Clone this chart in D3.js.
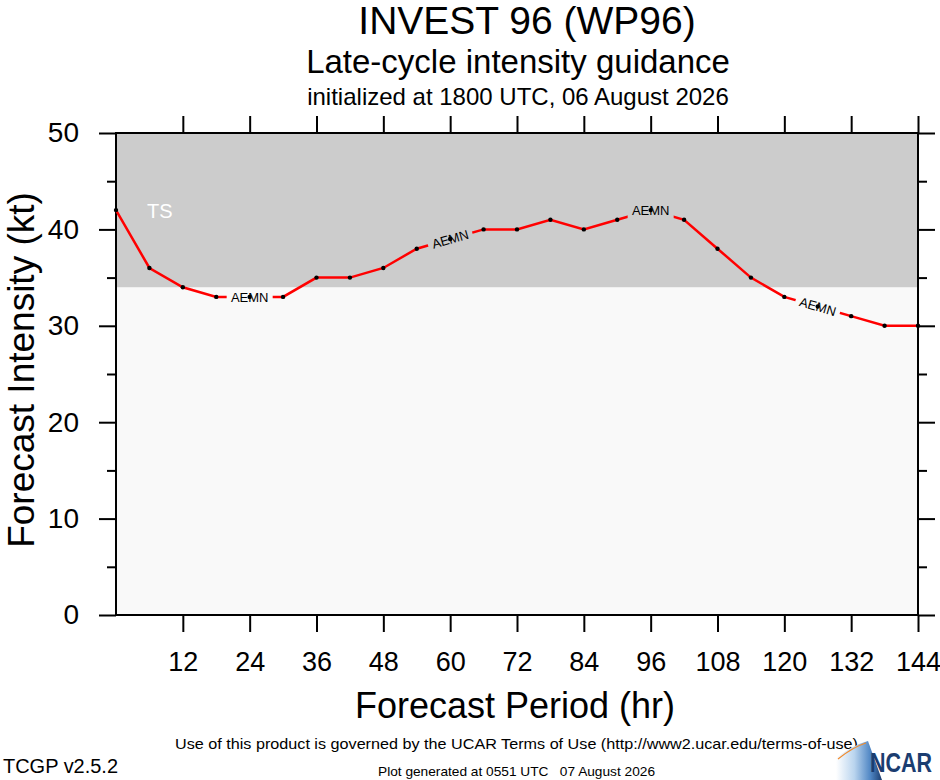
<!DOCTYPE html>
<html>
<head>
<meta charset="utf-8">
<script src="https://cdn.jsdelivr.net/npm/d3@7"></script>
<style>
  html, body { margin: 0; padding: 0; background: #fff; }
  svg { display: block; font-family: "Liberation Sans", Arial, Helvetica, sans-serif; }
</style>
</head>
<body>
<div id="chart"></div>
<script>
// forecast hours and AEMN intensity (kt)
const hours = [0, 6, 12, 18, 24, 30, 36, 42, 48, 54, 60, 66, 72, 78, 84, 90, 96, 102, 108, 114, 120, 126, 132, 138, 144];
const aemn  = [42, 36, 34, 33, 33, 33, 35, 35, 36, 38, 39, 40, 40, 41, 40, 41, 42, 41, 38, 35, 33, 32, 31, 30, 30];
const labelHours = [24, 60, 96, 126];
const xTicks = [12, 24, 36, 48, 60, 72, 84, 96, 108, 120, 132, 144];
const yMajor = [0, 10, 20, 30, 40, 50];
const yMinor = [5, 15, 25, 35, 45];
const tsThreshold = 34;

const W = 940, H = 780;
const plot = { left: 116, right: 918, top: 133, bottom: 615 };

const svg = d3.select('#chart').append('svg')
  .attr('width', W).attr('height', H)
  .attr('viewBox', `0 0 ${W} ${H}`);

const x = d3.scaleLinear().domain([0, 144]).range([plot.left, plot.right]);
const y = d3.scaleLinear().domain([0, 50]).range([plot.bottom, plot.top]);

// titles
svg.append('text').attr('x', 527).attr('y', 34).attr('text-anchor', 'middle')
  .style('font-size', '39px').text('INVEST 96 (WP96)');
svg.append('text').attr('x', 518).attr('y', 73).attr('text-anchor', 'middle')
  .style('font-size', '33px').text('Late-cycle intensity guidance');
svg.append('text').attr('x', 518).attr('y', 105).attr('text-anchor', 'middle')
  .style('font-size', '24px').text('initialized at 1800 UTC, 06 August 2026');

// background bands
svg.append('rect')
  .attr('x', plot.left).attr('y', y(tsThreshold))
  .attr('width', plot.right - plot.left).attr('height', y(0) - y(tsThreshold))
  .attr('fill', '#f9f9f9');
svg.append('rect')
  .attr('x', plot.left).attr('y', y(50))
  .attr('width', plot.right - plot.left).attr('height', y(tsThreshold) - y(50))
  .attr('fill', '#cccccc');

svg.append('text').attr('x', 147).attr('y', 218)
  .attr('fill', '#fff').style('font-size', '20px').text('TS');

// axes: outward ticks on all four sides
const tickStyle = g => g.call(s => s.select('.domain').remove())
  .call(s => s.selectAll('line').attr('stroke', '#000').attr('stroke-width', 2));

svg.append('g').attr('transform', `translate(0,${plot.bottom})`)
  .call(d3.axisBottom(x).tickValues(xTicks).tickSize(17).tickPadding(20).tickFormat(d3.format('d')))
  .call(tickStyle)
  .call(g => g.selectAll('text').style('font-size', '27px').attr('fill', '#000')
    .style('font-family', '"Liberation Sans", Arial, sans-serif'));
svg.append('g').attr('transform', `translate(0,${plot.top})`)
  .call(d3.axisTop(x).tickValues(xTicks).tickSize(17).tickFormat(''))
  .call(tickStyle);

svg.append('g').attr('transform', `translate(${plot.left},0)`)
  .call(d3.axisLeft(y).tickValues(yMajor).tickSize(17).tickPadding(20).tickFormat(d3.format('d')))
  .call(tickStyle)
  .call(g => g.selectAll('text').style('font-size', '28px').attr('fill', '#000')
    .style('font-family', '"Liberation Sans", Arial, sans-serif'));
svg.append('g').attr('transform', `translate(${plot.left},0)`)
  .call(d3.axisLeft(y).tickValues(yMinor).tickSize(9).tickFormat(''))
  .call(tickStyle);
svg.append('g').attr('transform', `translate(${plot.right},0)`)
  .call(d3.axisRight(y).tickValues(yMajor).tickSize(17).tickFormat(''))
  .call(tickStyle);
svg.append('g').attr('transform', `translate(${plot.right},0)`)
  .call(d3.axisRight(y).tickValues(yMinor).tickSize(9).tickFormat(''))
  .call(tickStyle);

// frame
svg.append('rect')
  .attr('x', plot.left).attr('y', plot.top)
  .attr('width', plot.right - plot.left).attr('height', plot.bottom - plot.top)
  .attr('fill', 'none').attr('stroke', '#000').attr('stroke-width', 2);

// axis titles
svg.append('text').attr('x', 515).attr('y', 718).attr('text-anchor', 'middle')
  .style('font-size', '36px').text('Forecast Period (hr)');
svg.append('text')
  .attr('transform', `translate(34,${(plot.top + plot.bottom) / 2 - 4}) rotate(-90)`)
  .attr('text-anchor', 'middle')
  .style('font-size', '37px').text('Forecast Intensity (kt)');

// series
const pts = hours.map((h, i) => ({ h, v: aemn[i], px: x(h), py: y(aemn[i]) }));
const labelPts = pts.map((p, i) => {
  if (!labelHours.includes(p.h)) return null;
  const a = pts[Math.max(0, i - 1)], b = pts[Math.min(pts.length - 1, i + 1)];
  return { ...p, angle: Math.atan2(b.py - a.py, b.px - a.px) * 180 / Math.PI };
}).filter(Boolean);

// mask cuts the line where the AEMN labels sit
const defs = svg.append('defs');
const mask = defs.append('mask').attr('id', 'label-gap')
  .attr('maskUnits', 'userSpaceOnUse')
  .attr('x', 0).attr('y', 0).attr('width', W).attr('height', H);
mask.append('rect').attr('width', W).attr('height', H).attr('fill', '#fff');
mask.selectAll('rect.gap').data(labelPts).join('rect')
  .attr('class', 'gap')
  .attr('x', -23).attr('y', -8).attr('width', 46).attr('height', 16)
  .attr('fill', '#000')
  .attr('transform', d => `translate(${d.px},${d.py}) rotate(${d.angle})`);

const line = d3.line().x(d => d.px).y(d => d.py);
svg.append('path').datum(pts)
  .attr('d', line)
  .attr('fill', 'none').attr('stroke', '#ff0000').attr('stroke-width', 2.5)
  .attr('mask', 'url(#label-gap)');

svg.append('g').selectAll('circle').data(pts).join('circle')
  .attr('cx', d => d.px).attr('cy', d => d.py).attr('r', 2.2).attr('fill', '#000');

svg.append('g').selectAll('text').data(labelPts).join('text')
  .attr('transform', d => `translate(${d.px},${d.py}) rotate(${d.angle})`)
  .attr('text-anchor', 'middle').attr('dy', '0.36em')
  .style('font-size', '13px').attr('fill', '#000')
  .text('AEMN');

// footer
svg.append('text').attr('x', 175).attr('y', 749)
  .attr('textLength', 683).attr('lengthAdjust', 'spacingAndGlyphs')
  .style('font-size', '15px').text('Use of this product is governed by the UCAR Terms of Use (http://www2.ucar.edu/terms-of-use)');
svg.append('text').attr('x', 3).attr('y', 773)
  .attr('textLength', 115).attr('lengthAdjust', 'spacingAndGlyphs')
  .style('font-size', '20px').text('TCGP v2.5.2');
svg.append('text').attr('x', 378).attr('y', 776)
  .attr('textLength', 277).attr('lengthAdjust', 'spacingAndGlyphs')
  .style('font-size', '13px').attr('xml:space', 'preserve')
  .text('Plot generated at 0551 UTC   07 August 2026');

// NCAR logo
const grad = defs.append('linearGradient').attr('id', 'swoosh')
  .attr('x1', '0%').attr('y1', '0%').attr('x2', '100%').attr('y2', '0%');
grad.append('stop').attr('offset', '0%').attr('stop-color', '#ffffff');
grad.append('stop').attr('offset', '40%').attr('stop-color', '#b9d4ee');
grad.append('stop').attr('offset', '75%').attr('stop-color', '#4f86c4');
grad.append('stop').attr('offset', '100%').attr('stop-color', '#1b3d70');
svg.append('path')
  .attr('d', 'M836,780 L836,758 Q853,745 868,741 L882,780 Z')
  .attr('fill', 'url(#swoosh)');
svg.append('path')
  .attr('d', 'M838,759 Q853,747 866,743')
  .attr('fill', 'none').attr('stroke', '#f08a2c').attr('stroke-width', 1.2);
svg.append('text').attr('x', 870).attr('y', 772)
  .attr('textLength', 62).attr('lengthAdjust', 'spacingAndGlyphs')
  .style('font-size', '27px').style('font-weight', 'bold')
  .style('font-family', '"Liberation Sans Narrow", "Liberation Sans", Arial, sans-serif')
  .attr('fill', '#1b3d70').text('NCAR');
</script>
</body>
</html>
